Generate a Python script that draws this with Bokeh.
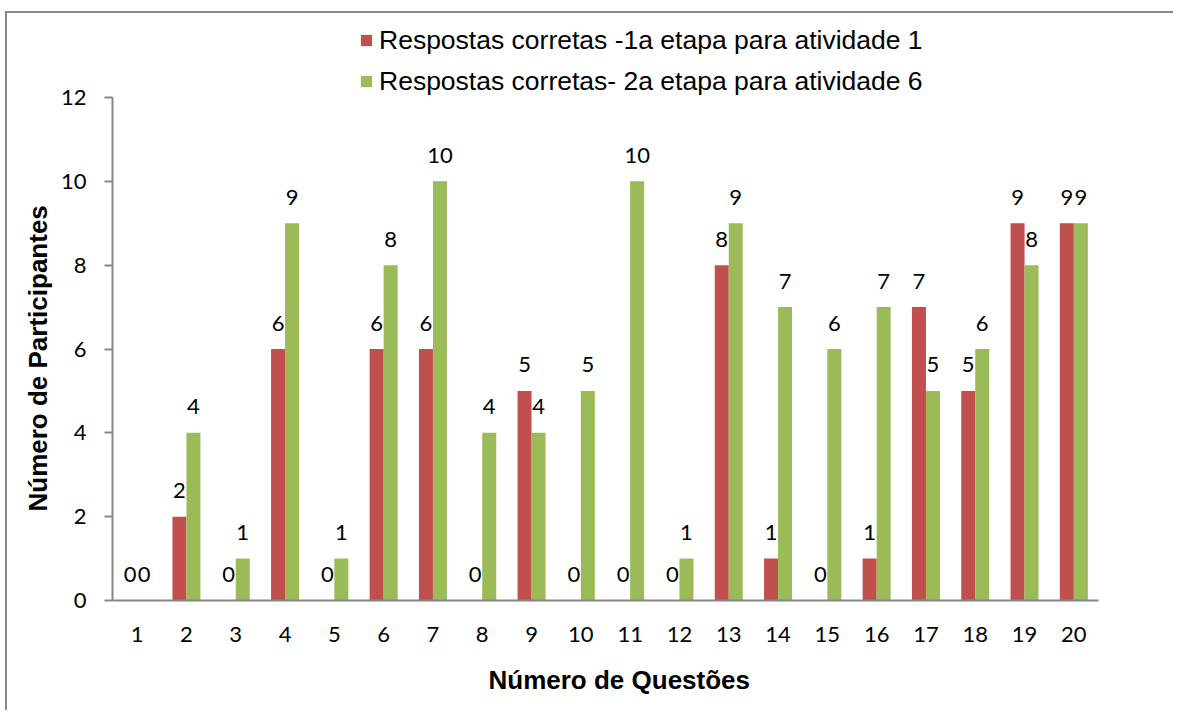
from bokeh.plotting import figure
from bokeh.models import ColumnDataSource, FactorRange, Range1d, Legend, LegendItem, FixedTicker, Title
from bokeh.transform import dodge
from bokeh.core.properties import value
from bokeh.embed import file_html
from bokeh.resources import INLINE

questions = [str(i) for i in range(1, 21)]
etapa1 = [0, 2, 0, 6, 0, 6, 6, 0, 5, 0, 0, 0, 8, 1, 0, 1, 7, 5, 9, 9]
etapa2 = [0, 4, 1, 9, 1, 8, 10, 4, 4, 5, 10, 1, 9, 7, 6, 7, 5, 6, 8, 9]
series_names = ["Respostas corretas -1a etapa para atividade 1",
                "Respostas corretas- 2a etapa para atividade 6"]
y_ticks = [0, 2, 4, 6, 8, 10, 12]
y_max = 12
x_title = "Número de Questões"
y_title = "Número de Participantes"

RED = "#C0504D"
GREEN = "#9BBB59"
AXIS = "#868686"
TICK_FONT = "Lato"
LEG_FONT = "Liberation Sans"

# layout (pixels)
FRAME_H = 581          # frame spans from legend area down to the baseline
AXIS_H = 503           # pixel height of 0..12
y_end = y_max * FRAME_H / AXIS_H

src = ColumnDataSource(dict(q=questions, a=etapa1, b=etapa2,
                            la=[str(v) for v in etapa1], lb=[str(v) for v in etapa2]))

p = figure(x_range=FactorRange(*questions, range_padding=0), y_range=Range1d(0, y_end),
           width=1168, height=699, output_backend="svg", toolbar_location=None,
           min_border_left=105, min_border_right=77, min_border_top=6, min_border_bottom=100,
           styles={"border-left": "2px solid #898989", "border-top": "2px solid #898989",
                   "margin-top": "11px", "margin-left": "5px"})
p.outline_line_color = None
p.xgrid.grid_line_color = None
p.ygrid.grid_line_color = None

w = 0.284
r1 = p.vbar(x=dodge("q", -w / 2, range=p.x_range), top="a", width=w, source=src,
            fill_color=RED, line_color=None)
r2 = p.vbar(x=dodge("q", w / 2, range=p.x_range), top="b", width=w, source=src,
            fill_color=GREEN, line_color=None)

p.text(x=dodge("q", -w / 2, range=p.x_range), y="a", text="la", source=src,
       text_align="center", text_baseline="middle", y_offset=-26,
       text_font=value(TICK_FONT), text_font_size="22px", text_color="black")
p.text(x=dodge("q", w / 2, range=p.x_range), y="b", text="lb", source=src,
       text_align="center", text_baseline="middle", y_offset=-26,
       text_font=value(TICK_FONT), text_font_size="22px", text_color="black")

# axes
p.yaxis.ticker = FixedTicker(ticks=y_ticks)
p.yaxis.bounds = (0, y_max)
p.yaxis.minor_tick_line_color = None
p.yaxis.major_tick_in = 0
p.yaxis.major_tick_out = 8
p.yaxis.major_label_standoff = 18
for ax in (p.xaxis, p.yaxis):
    ax.axis_line_color = AXIS
    ax.axis_line_width = 2
    ax.major_tick_line_color = AXIS
    ax.major_tick_line_width = 2
    ax.major_label_text_font = TICK_FONT
    ax.major_label_text_font_size = "22px"
    ax.major_label_text_color = "black"
p.xaxis.major_tick_line_color = None
p.xaxis.major_tick_out = 0
p.xaxis.major_tick_in = 0
p.xaxis.major_label_standoff = 26

yt = Title(text=y_title, align="left", offset=89, standoff=10,
           text_font=LEG_FONT, text_font_size="26px", text_font_style="bold", text_color="black")
p.add_layout(yt, "left")
xt = Title(text=x_title, align="left", offset=376, standoff=36,
           text_font=LEG_FONT, text_font_size="26px", text_font_style="bold", text_color="black")
p.add_layout(xt, "below")

legend = Legend(items=[LegendItem(label=series_names[0], renderers=[r1]),
                       LegendItem(label=series_names[1], renderers=[r2])],
                location=(247, 503), orientation="vertical",
                padding=0, margin=0, border_line_color=None, background_fill_alpha=0,
                glyph_width=14, glyph_height=14, label_standoff=6,
                label_height=32, spacing=9,
                label_text_font=LEG_FONT, label_text_font_size="26.5px", label_text_color="black")
p.add_layout(legend, "center")

open("out.html", "w").write(file_html(p, INLINE))
